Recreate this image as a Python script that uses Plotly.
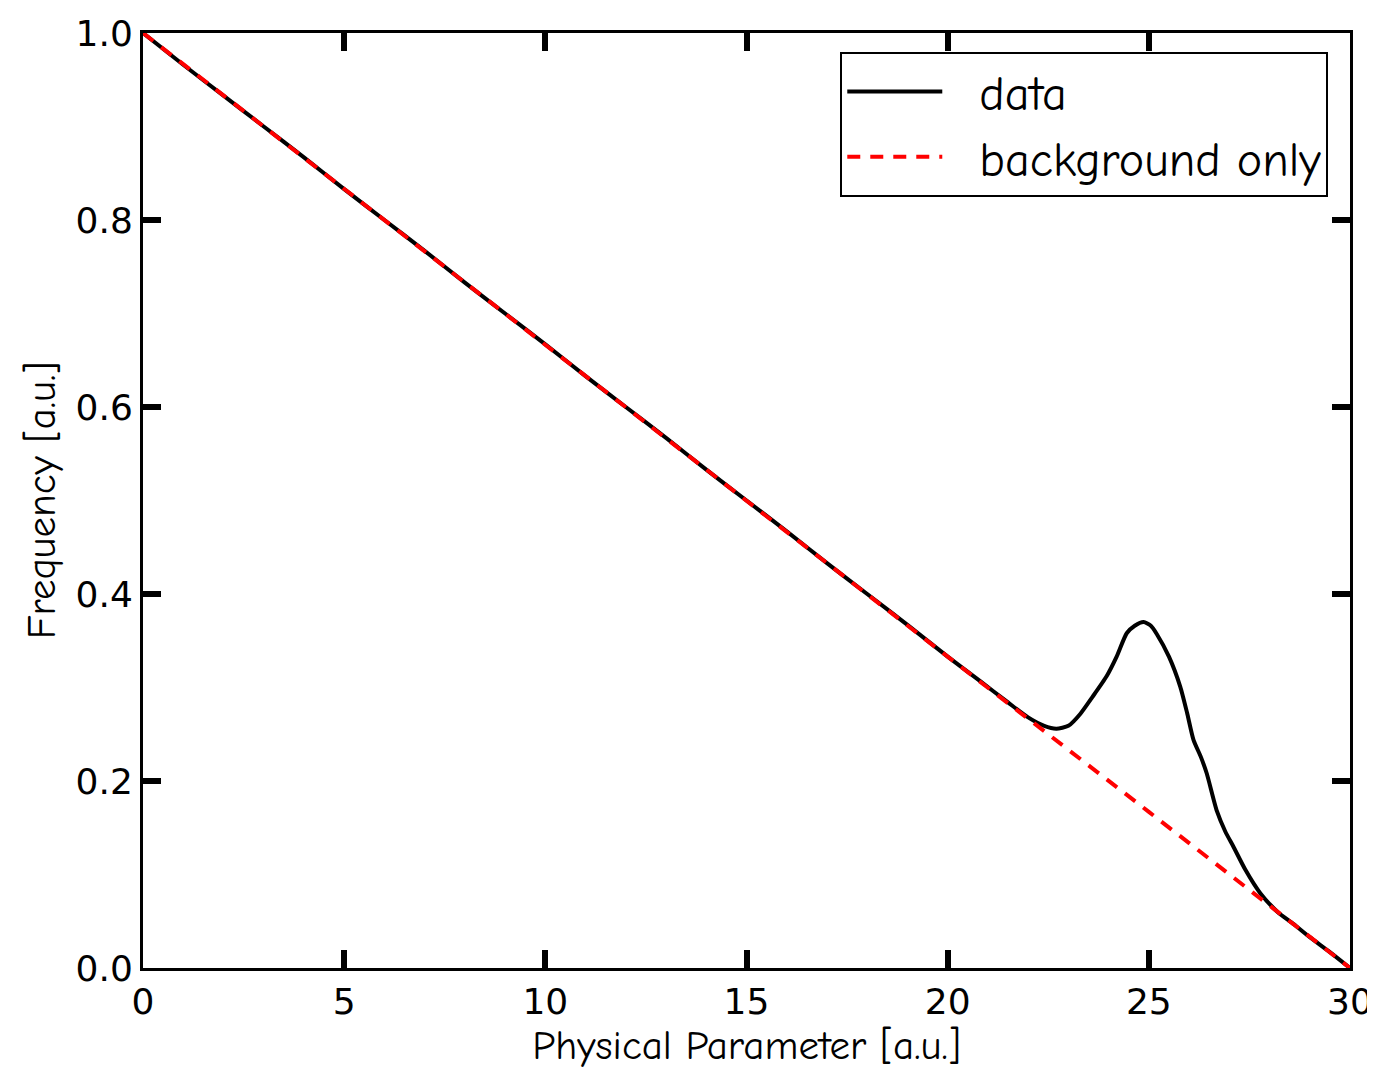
import plotly.graph_objects as go

# Data
x_data = [0, 1, 2, 3, 4, 5, 6, 7, 8, 9, 10, 11, 12, 13, 14, 15, 16, 17, 18, 19,
          20, 20.8, 21.5, 22.0, 22.4, 22.7, 23.0, 23.3, 23.6, 23.95, 24.2, 24.45,
          24.65, 24.87, 25.05, 25.2, 25.5, 25.78, 25.95, 26.11, 26.3, 26.44, 26.69,
          26.9, 27.1, 27.4, 27.77, 28.2, 28.6, 29.0, 29.5, 30.0]
y_data = [1.000, 0.966, 0.933, 0.900, 0.867, 0.833, 0.800, 0.767, 0.733, 0.700,
          0.667, 0.633, 0.600, 0.567, 0.533, 0.500, 0.467, 0.433, 0.400, 0.367,
          0.333, 0.307, 0.284, 0.268, 0.259, 0.256, 0.259, 0.272, 0.290, 0.312,
          0.333, 0.358, 0.366, 0.370, 0.366, 0.357, 0.333, 0.301, 0.273, 0.244,
          0.225, 0.208, 0.168, 0.146, 0.130, 0.105, 0.080, 0.060, 0.047, 0.033,
          0.017, 0.000]

x_bg = [0, 5, 10, 15, 20, 25, 30]
y_bg = [1.000, 0.833, 0.667, 0.500, 0.333, 0.167, 0.000]

x_ticks = [0, 5, 10, 15, 20, 25, 30]
y_ticks = [0.0, 0.2, 0.4, 0.6, 0.8, 1.0]
y_tick_text = ["0.0", "0.2", "0.4", "0.6", "0.8", "1.0"]

comic = "Comic Sans MS, Comic Neue, Lato, Noto Sans, sans-serif"
tickfont = dict(family="DejaVu Sans, Noto Sans, sans-serif", size=36, color="black")

fig = go.Figure()
fig.add_trace(go.Scatter(x=x_data, y=y_data, mode="lines", name="\u00a0\u00a0data",
                         line=dict(color="black", width=4, shape="spline", smoothing=0.6)))
fig.add_trace(go.Scatter(x=x_bg, y=y_bg, mode="lines", name="\u00a0\u00a0background only",
                         line=dict(color="#ff0000", width=4, dash="13px,10px")))

axis_common = dict(showline=True, linecolor="black", linewidth=3, mirror="ticks",
                   ticks="inside", ticklen=18, tickwidth=6, tickcolor="black",
                   showgrid=False, zeroline=False, tickfont=tickfont, automargin=False)

fig.update_xaxes(range=[0, 30], tickvals=x_ticks, ticktext=[str(v) for v in x_ticks],
                 title=dict(text="Physical Parameter [a.u.]", font=dict(family=comic, size=41, color="black"),
                            standoff=0),
                 **axis_common)
fig.update_yaxes(range=[0, 1.0], tickvals=y_ticks, ticktext=y_tick_text,
                 title=dict(text="Frequency [a.u.]", font=dict(family=comic, size=41, color="black"),
                            standoff=8),
                 **axis_common)

fig.update_layout(
    width=1367, height=1062,
    margin=dict(l=135, r=25, t=25, b=102),
    plot_bgcolor="white", paper_bgcolor="white",
    showlegend=True,
    legend=dict(x=0.982, y=0.98, xanchor="right", yanchor="top",
                bgcolor="white", bordercolor="black", borderwidth=2,
                font=dict(family=comic, size=48, color="black"),
                itemwidth=95, tracegroupgap=10),
)

fig.write_html("out.html")
